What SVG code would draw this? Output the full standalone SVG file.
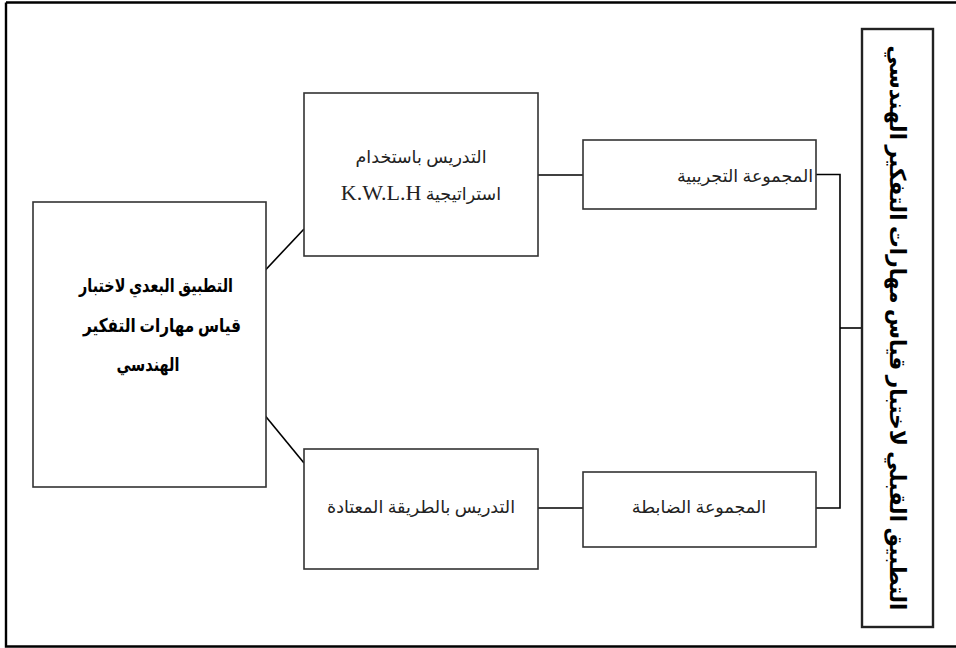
<svg xmlns="http://www.w3.org/2000/svg" width="956" height="648" viewBox="0 0 956 648">
<style>
.box{fill:#fff;stroke:#333;stroke-width:1.6}
.vbox{fill:#fff;stroke:#222;stroke-width:2.4}
.conn{fill:none;stroke:#000;stroke-width:1.6}
.t{font-family:"Liberation Serif","DejaVu Sans",serif;fill:#222;font-size:17.5px;text-anchor:middle;direction:rtl}
.tb{font-family:"Liberation Serif","DejaVu Sans",serif;fill:#000;font-size:19px;font-weight:bold;text-anchor:middle;direction:rtl}
.tv{font-family:"Liberation Serif","DejaVu Sans",serif;fill:#000;font-size:22px;font-weight:bold;text-anchor:middle;direction:rtl}
</style>
<rect x="0" y="0" width="956" height="648" fill="#fff"/>
<g id="frame"><path d="M6,2.5 H956 M6,2.5 V646.5 H956" fill="none" stroke="#000" stroke-width="2.4"/></g>
<g id="connectors">
<line class="conn" x1="257" y1="279" x2="304" y2="229"/>
<line class="conn" x1="258" y1="407" x2="304" y2="463"/>
<line class="conn" x1="538" y1="175" x2="583" y2="175"/>
<line class="conn" x1="538" y1="508" x2="583" y2="508"/>
<path class="conn" d="M816,174.5 H840 V508 H816"/>
<line class="conn" x1="840" y1="328" x2="862" y2="328"/>
</g>
<g id="post-test">
<rect class="box" x="33" y="202" width="233" height="285"/>
<text class="tb" x="156" y="292" textLength="154" lengthAdjust="spacingAndGlyphs">التطبيق البعدي لاختبار</text>
<text class="tb" x="162" y="332" textLength="158" lengthAdjust="spacingAndGlyphs">قياس مهارات التفكير</text>
<text class="tb" x="148" y="371" textLength="63" lengthAdjust="spacingAndGlyphs">الهندسي</text>
</g>
<g id="kwlh">
<rect class="box" x="304" y="93" width="234" height="163"/>
<text class="t" x="421" y="163">التدريس باستخدام</text>
<text class="t" x="421" y="200"><tspan>استراتيجية </tspan><tspan font-size="22">K.W.L.H</tspan></text>
</g>
<g id="traditional">
<rect class="box" x="304" y="449" width="234" height="120"/>
<text class="t" x="421" y="513">التدريس بالطريقة المعتادة</text>
</g>
<g id="experimental">
<rect class="box" x="583" y="140" width="233" height="69"/>
<text class="t" x="745" y="182">المجموعة التجريبية</text>
</g>
<g id="control">
<rect class="box" x="583" y="472" width="233" height="75"/>
<text class="t" x="699" y="513">المجموعة الضابطة</text>
</g>
<g id="pre-test">
<rect class="vbox" x="862" y="29" width="71" height="598"/>
<text class="tv" transform="translate(890,328) rotate(90)" textLength="565" lengthAdjust="spacingAndGlyphs">التطبيق القبلي لاختبار قياس مهارات التفكير الهندسي</text>
</g>
</svg>
